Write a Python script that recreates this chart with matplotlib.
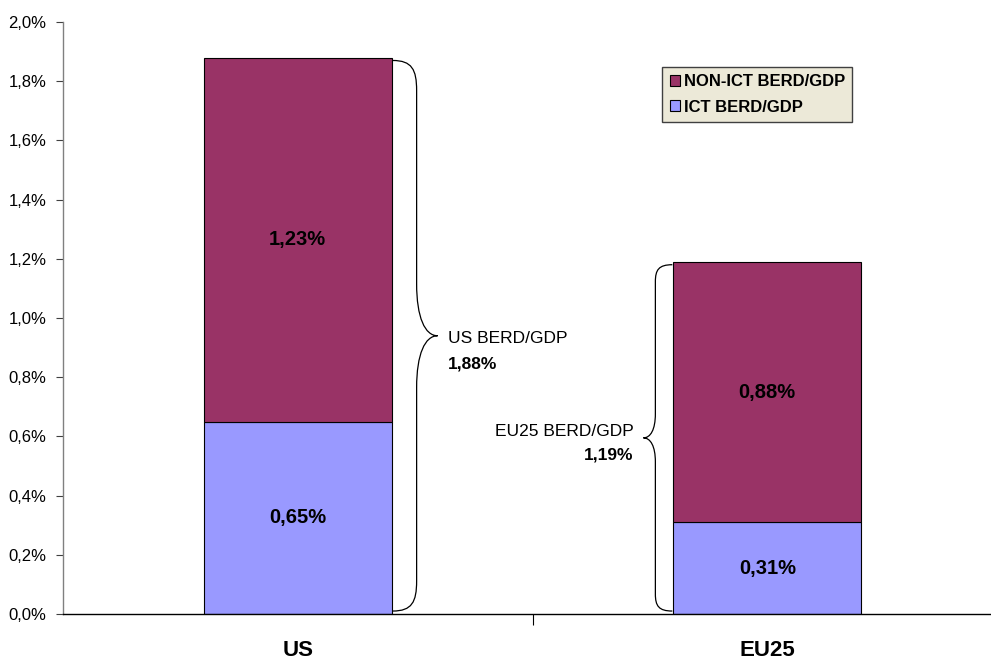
import matplotlib.pyplot as plt
from matplotlib.path import Path
from matplotlib.patches import PathPatch, Patch
from matplotlib.ticker import FuncFormatter

### Data ###
categories = ["US", "EU25"]
ict = [0.65, 0.31]          # ICT BERD/GDP, %
non_ict = [1.23, 0.88]      # NON-ICT BERD/GDP, %
totals = [1.88, 1.19]       # total BERD/GDP, %
total_names = ["US BERD/GDP", "EU25 BERD/GDP"]

### Style ###
plt.rcParams['font.family'] = ['Liberation Sans', 'DejaVu Sans']
ICT_COLOR = '#9999FF'
NON_ICT_COLOR = '#993366'
BAR_WIDTH = 0.4


def pct(v):
    return f"{v:.2f}%".replace('.', ',')


def brace(ax, x0, y0, y1, side, v, d, e, t):
    # curly brace from (x0, y0) to (x0, y1), opening towards side (+1 right, -1 left)
    ym = (y0 + y1) / 2
    xv = x0 + side * v
    xt = x0 + side * d
    verts = [
        (x0, y0),
        (x0 + side * v * 0.8, y0), (xv, y0 + e * 0.3), (xv, y0 + e),
        (xv, ym - t),
        (xv, ym - t * 0.35), (xv + side * (d - v) * 0.4, ym), (xt, ym),
        (xv + side * (d - v) * 0.4, ym), (xv, ym + t * 0.35), (xv, ym + t),
        (xv, y1 - e),
        (xv, y1 - e * 0.3), (x0 + side * v * 0.8, y1), (x0, y1),
    ]
    codes = [Path.MOVETO,
             Path.CURVE4, Path.CURVE4, Path.CURVE4,
             Path.LINETO,
             Path.CURVE4, Path.CURVE4, Path.CURVE4,
             Path.CURVE4, Path.CURVE4, Path.CURVE4,
             Path.LINETO,
             Path.CURVE4, Path.CURVE4, Path.CURVE4]
    ax.add_patch(PathPatch(Path(verts, codes), facecolor='none',
                           edgecolor='black', lw=0.9, clip_on=False))
    return xt, ym


fig = plt.figure(figsize=(9.91, 6.62), dpi=100)
ax = fig.add_axes([63 / 991, 1 - 614 / 662, 939 / 991, (614 - 22) / 662])

x = list(range(len(categories)))
ax.bar(x, ict, BAR_WIDTH, color=ICT_COLOR, edgecolor='black', lw=0.8)
ax.bar(x, non_ict, BAR_WIDTH, bottom=ict, color=NON_ICT_COLOR,
       edgecolor='black', lw=0.8)

for i in x:
    ax.text(i, ict[i] / 2, pct(ict[i]), ha='center', va='center',
            fontsize=14.5, fontweight='bold')
    ax.text(i, ict[i] + non_ict[i] / 2, pct(non_ict[i]), ha='center',
            va='center', fontsize=14.5, fontweight='bold')

# braces showing the totals
px = 1 / 470   # data units per pixel, x
py = 1 / 296   # data units per pixel, y

xt, ym = brace(ax, x[0] + BAR_WIDTH / 2 + 1 * px, 0.01, totals[0] - 0.01, +1,
               24 * px, 45 * px, 30 * py, 52 * py)
ax.text(xt + 10 * px, ym - 3 * py, total_names[0], ha='left', va='center',
        fontsize=12.5)
ax.text(xt + 10 * px, ym - 28 * py, pct(totals[0]), ha='left', va='center',
        fontsize=12.5, fontweight='bold')

xt, ym = brace(ax, x[1] - BAR_WIDTH / 2 - 1 * px, 0.01, totals[1] - 0.01, -1,
               17 * px, 29 * px, 17 * py, 24 * py)
ax.text(xt - 10 * px, ym + 6 * py, total_names[1], ha='right', va='center',
        fontsize=12.5)
ax.text(xt - 10 * px, ym - 17 * py, pct(totals[1]), ha='right', va='center',
        fontsize=12.5, fontweight='bold')

# axes
ax.set_xlim(-0.5, 1.5)
ax.set_ylim(0, 2.0)
ax.set_yticks([i * 0.2 for i in range(11)])
ax.yaxis.set_major_formatter(FuncFormatter(lambda v, p: f"{v:.1f}%".replace('.', ',')))
ax.tick_params(axis='y', length=5, width=0.8, pad=7, labelsize=12, color='#404040')
ax.set_xticks(x)
ax.set_xticklabels(categories, fontsize=16, fontweight='bold')
ax.tick_params(axis='x', which='major', length=0, pad=19)
ax.set_xticks([0.5, 1.5], minor=True)
ax.tick_params(axis='x', which='minor', length=8, width=0.8)
ax.spines['top'].set_visible(False)
ax.spines['right'].set_visible(False)
ax.spines['left'].set_color('#808080')
ax.spines['left'].set_linewidth(1.0)
ax.spines['bottom'].set_linewidth(1.0)

handles = [Patch(facecolor=NON_ICT_COLOR, edgecolor='black', lw=0.8),
           Patch(facecolor=ICT_COLOR, edgecolor='black', lw=0.8)]
leg = fig.legend(handles, ["NON-ICT BERD/GDP", "ICT BERD/GDP"],
                 loc='upper left', bbox_to_anchor=(662 / 991, 1 - 67 / 662),
                 prop={'weight': 'bold', 'size': 12}, fancybox=False,
                 handlelength=0.6, handleheight=0.6, handletextpad=0.25,
                 borderpad=0.45, labelspacing=0.6, borderaxespad=0)
leg.get_frame().set_facecolor('#ECE9D8')
leg.get_frame().set_edgecolor('#404040')
leg.get_frame().set_linewidth(1.0)
leg.get_frame().set_alpha(1)

fig.savefig("out.png", dpi=100)
